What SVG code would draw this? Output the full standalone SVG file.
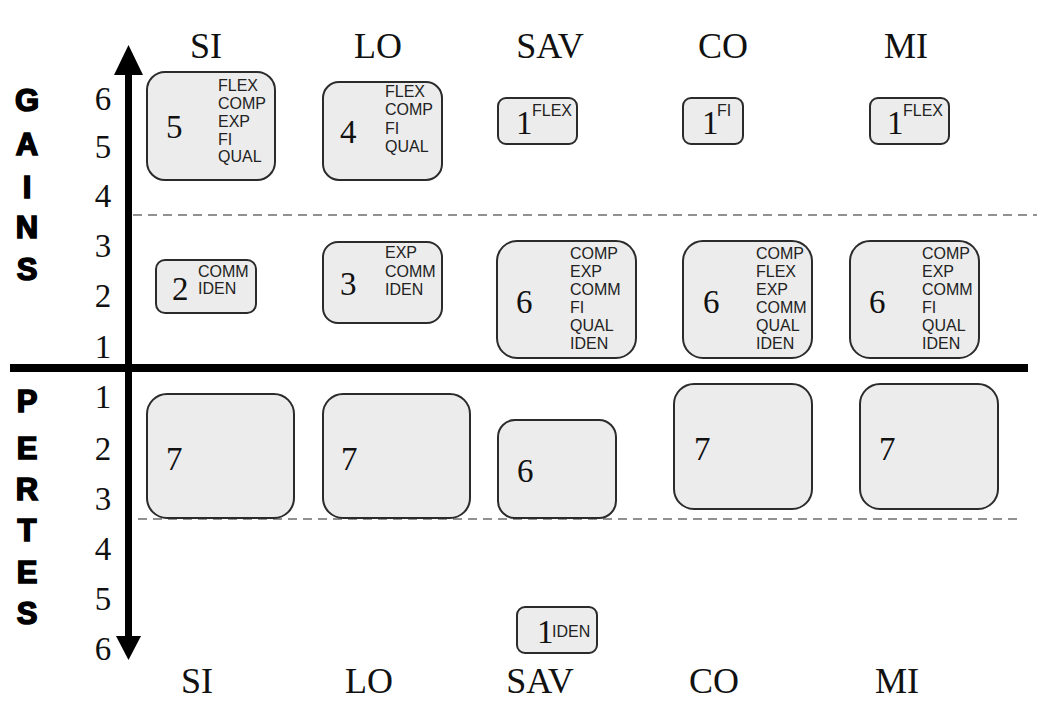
<svg xmlns="http://www.w3.org/2000/svg" width="1053" height="722" viewBox="0 0 1053 722">
  <style>
    .box { fill: #ececec; stroke: #2b2b2b; stroke-width: 2; }
    .num { font-family: "Liberation Serif", "Times New Roman", serif; font-size: 33px; fill: #111; }
    .col { font-family: "Liberation Serif", "Times New Roman", serif; font-size: 36px; fill: #111; text-anchor: middle; }
    .tag { font-family: "Liberation Sans", Arial, sans-serif; font-size: 16px; fill: #222; }
    .side { font-family: "Liberation Sans", Arial, sans-serif; font-size: 31px; font-weight: bold; fill: #000; stroke: #000; stroke-width: 1.6; text-anchor: middle; }
    .dash { stroke: #6e6e6e; stroke-width: 1.6; stroke-dasharray: 9 6; fill: none; }
  </style>

  <rect width="1053" height="722" fill="#ffffff"/>

  <!-- axes and divider lines -->
  <g id="axes">
    <line class="dash" x1="133" y1="215" x2="1037" y2="215"/>
    <line class="dash" x1="138" y1="519" x2="1020" y2="519"/>
    <rect x="10" y="364" width="1018" height="8" fill="#000"/>
    <line x1="128.5" y1="70" x2="128.5" y2="640" stroke="#000" stroke-width="7"/>
    <polygon points="128.5,45 114,75 143,75" fill="#000"/>
    <polygon points="128.5,660 116,636 141,636" fill="#000"/>
  </g>

  <!-- side titles -->
  <g id="side-gains">
    <text class="side" x="27" y="111">G</text>
    <text class="side" x="27" y="155">A</text>
    <text class="side" x="27" y="198">I</text>
    <text class="side" x="27" y="238">N</text>
    <text class="side" x="27" y="280">S</text>
  </g>
  <g id="side-pertes">
    <text class="side" x="27" y="412">P</text>
    <text class="side" x="27" y="459">E</text>
    <text class="side" x="27" y="500">R</text>
    <text class="side" x="27" y="541">T</text>
    <text class="side" x="27" y="583">E</text>
    <text class="side" x="27" y="624">S</text>
  </g>

  <!-- scale values -->
  <g id="scale" class="num" text-anchor="middle">
    <text x="103" y="110">6</text>
    <text x="103" y="158">5</text>
    <text x="103" y="207">4</text>
    <text x="103" y="257">3</text>
    <text x="103" y="307">2</text>
    <text x="103" y="358">1</text>
    <text x="103" y="408">1</text>
    <text x="103" y="460">2</text>
    <text x="103" y="510">3</text>
    <text x="103" y="560">4</text>
    <text x="103" y="610">5</text>
    <text x="103" y="660">6</text>
  </g>

  <!-- column headings -->
  <g id="columns-top">
    <text class="col" x="206" y="58">SI</text>
    <text class="col" x="378" y="58">LO</text>
    <text class="col" x="550" y="58">SAV</text>
    <text class="col" x="723" y="58">CO</text>
    <text class="col" x="906" y="58">MI</text>
  </g>
  <g id="columns-bottom">
    <text class="col" x="197" y="693">SI</text>
    <text class="col" x="369" y="693">LO</text>
    <text class="col" x="540" y="693">SAV</text>
    <text class="col" x="714" y="693">CO</text>
    <text class="col" x="897" y="693">MI</text>
  </g>

  <!-- gains, high band -->
  <g id="si-gain-high">
    <rect class="box" x="147" y="72" width="128" height="108" rx="18"/>
    <text class="num" x="166" y="138">5</text>
    <text class="tag"><tspan x="218" y="91">FLEX</tspan><tspan x="218" y="109">COMP</tspan><tspan x="218" y="127">EXP</tspan><tspan x="218" y="145">FI</tspan><tspan x="218" y="162">QUAL</tspan></text>
  </g>
  <g id="lo-gain-high">
    <rect class="box" x="323" y="82" width="119" height="98" rx="16"/>
    <text class="num" x="340" y="143">4</text>
    <text class="tag"><tspan x="385" y="97">FLEX</tspan><tspan x="385" y="115">COMP</tspan><tspan x="385" y="134">FI</tspan><tspan x="385" y="152">QUAL</tspan></text>
  </g>
  <g id="sav-gain-high">
    <rect class="box" x="498" y="98" width="79" height="46" rx="8"/>
    <text class="num" x="516" y="134">1</text>
    <text class="tag" x="532" y="116">FLEX</text>
  </g>
  <g id="co-gain-high">
    <rect class="box" x="683" y="98" width="60" height="46" rx="8"/>
    <text class="num" x="702" y="134">1</text>
    <text class="tag" x="717" y="116">FI</text>
  </g>
  <g id="mi-gain-high">
    <rect class="box" x="870" y="98" width="79" height="46" rx="8"/>
    <text class="num" x="887" y="134">1</text>
    <text class="tag" x="903" y="116">FLEX</text>
  </g>

  <!-- gains, low band -->
  <g id="si-gain-low">
    <rect class="box" x="156" y="260" width="100" height="53" rx="9"/>
    <text class="num" x="172" y="300">2</text>
    <text class="tag"><tspan x="198" y="277">COMM</tspan><tspan x="198" y="294">IDEN</tspan></text>
  </g>
  <g id="lo-gain-low">
    <rect class="box" x="323" y="242" width="119" height="81" rx="15"/>
    <text class="num" x="340" y="295">3</text>
    <text class="tag"><tspan x="385" y="258">EXP</tspan><tspan x="385" y="277">COMM</tspan><tspan x="385" y="295">IDEN</tspan></text>
  </g>
  <g id="sav-gain-low">
    <rect class="box" x="497" y="241" width="139" height="117" rx="20"/>
    <text class="num" x="516" y="313">6</text>
    <text class="tag"><tspan x="570" y="259">COMP</tspan><tspan x="570" y="277">EXP</tspan><tspan x="570" y="295">COMM</tspan><tspan x="570" y="313">FI</tspan><tspan x="570" y="331">QUAL</tspan><tspan x="570" y="349">IDEN</tspan></text>
  </g>
  <g id="co-gain-low">
    <rect class="box" x="683" y="241" width="129" height="117" rx="20"/>
    <text class="num" x="703" y="313">6</text>
    <text class="tag"><tspan x="756" y="259">COMP</tspan><tspan x="756" y="277">FLEX</tspan><tspan x="756" y="295">EXP</tspan><tspan x="756" y="313">COMM</tspan><tspan x="756" y="331">QUAL</tspan><tspan x="756" y="349">IDEN</tspan></text>
  </g>
  <g id="mi-gain-low">
    <rect class="box" x="850" y="241" width="129" height="117" rx="20"/>
    <text class="num" x="869" y="313">6</text>
    <text class="tag"><tspan x="922" y="259">COMP</tspan><tspan x="922" y="277">EXP</tspan><tspan x="922" y="295">COMM</tspan><tspan x="922" y="313">FI</tspan><tspan x="922" y="331">QUAL</tspan><tspan x="922" y="349">IDEN</tspan></text>
  </g>

  <!-- losses -->
  <g id="si-loss">
    <rect class="box" x="147" y="394" width="147" height="124" rx="20"/>
    <text class="num" x="166" y="470">7</text>
  </g>
  <g id="lo-loss">
    <rect class="box" x="323" y="394" width="147" height="124" rx="20"/>
    <text class="num" x="341" y="470">7</text>
  </g>
  <g id="sav-loss">
    <rect class="box" x="498" y="420" width="118" height="98" rx="17"/>
    <text class="num" x="517" y="482">6</text>
  </g>
  <g id="co-loss">
    <rect class="box" x="674" y="384" width="138" height="125" rx="20"/>
    <text class="num" x="694" y="460">7</text>
  </g>
  <g id="mi-loss">
    <rect class="box" x="860" y="384" width="138" height="125" rx="20"/>
    <text class="num" x="879" y="460">7</text>
  </g>
  <g id="sav-loss-low">
    <rect class="box" x="517" y="607" width="80" height="46" rx="8"/>
    <text class="num" x="537" y="643">1</text>
    <text class="tag" x="552" y="637">IDEN</text>
  </g>
</svg>
